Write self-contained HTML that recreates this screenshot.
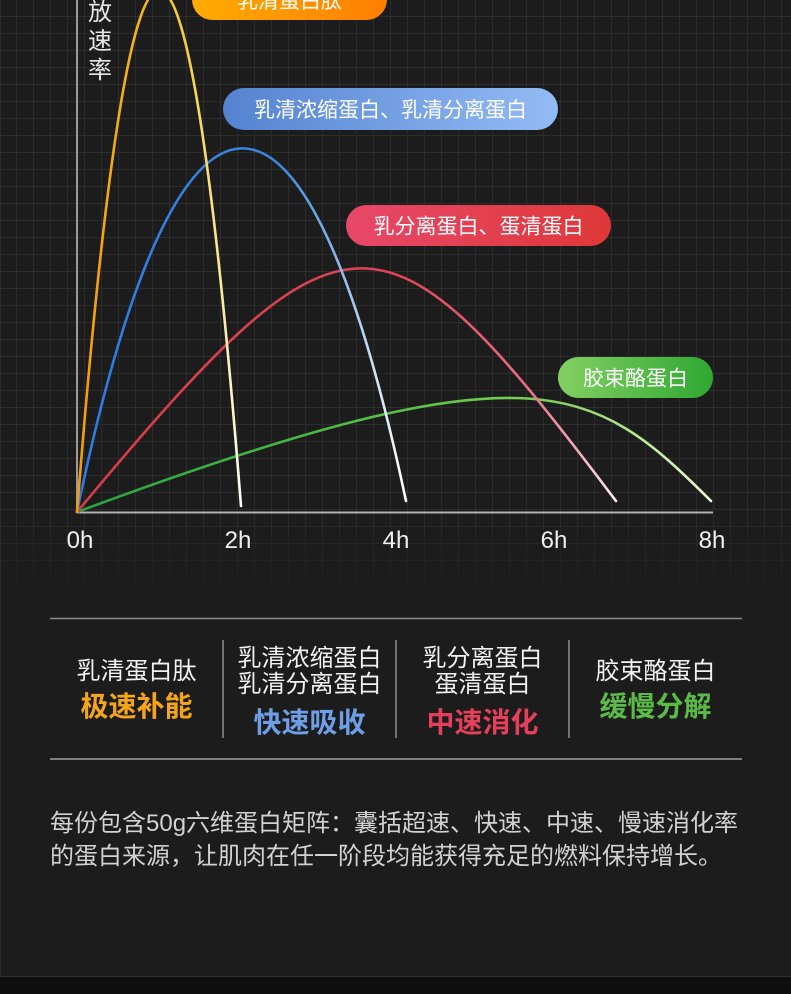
<!DOCTYPE html>
<html><head><meta charset="utf-8">
<style>
html,body{margin:0;padding:0;background:#1c1c1c;}
body{width:791px;height:994px;overflow:hidden;position:relative;}
svg{display:block;position:absolute;left:0;top:0;}
text{font-family:"Liberation Sans","Noto Sans CJK SC",sans-serif;}
</style></head>
<body>
<svg width="791" height="994" viewBox="0 0 791 994" xmlns="http://www.w3.org/2000/svg">
<defs>
  <pattern id="grid" width="17" height="17" patternUnits="userSpaceOnUse">
    <path d="M16.5 0 V17 M0 16.5 H17" stroke="rgba(255,255,255,0.075)" stroke-width="1" fill="none"/>
  </pattern>
  <linearGradient id="fade" x1="0" y1="0" x2="0" y2="1">
    <stop offset="0" stop-color="#fff"/>
    <stop offset="0.82" stop-color="#fff"/>
    <stop offset="1" stop-color="#000"/>
  </linearGradient>
  <mask id="gm"><rect x="0" y="0" width="791" height="610" fill="url(#fade)"/></mask>

  <linearGradient id="gY" gradientUnits="userSpaceOnUse" x1="77" y1="0" x2="241" y2="0">
    <stop offset="0" stop-color="#f39a10"/>
    <stop offset="0.45" stop-color="#f5b81e"/>
    <stop offset="0.7" stop-color="#f7d24a"/>
    <stop offset="0.88" stop-color="#faeaa0"/>
    <stop offset="1" stop-color="#fffdf2"/>
  </linearGradient>
  <linearGradient id="gB" gradientUnits="userSpaceOnUse" x1="77" y1="0" x2="406" y2="0">
    <stop offset="0" stop-color="#2a7ae2"/>
    <stop offset="0.62" stop-color="#3d88e0"/>
    <stop offset="0.8" stop-color="#8db8ea"/>
    <stop offset="0.92" stop-color="#d6e6f6"/>
    <stop offset="1" stop-color="#ffffff"/>
  </linearGradient>
  <linearGradient id="gR" gradientUnits="userSpaceOnUse" x1="77" y1="0" x2="616" y2="0">
    <stop offset="0" stop-color="#d63c46"/>
    <stop offset="0.6" stop-color="#de4556"/>
    <stop offset="0.83" stop-color="#e96a86"/>
    <stop offset="0.93" stop-color="#f2aabb"/>
    <stop offset="1" stop-color="#fdf0f3"/>
  </linearGradient>
  <linearGradient id="gG" gradientUnits="userSpaceOnUse" x1="77" y1="0" x2="711" y2="0">
    <stop offset="0" stop-color="#27a242"/>
    <stop offset="0.5" stop-color="#58bf45"/>
    <stop offset="0.75" stop-color="#80d05a"/>
    <stop offset="0.9" stop-color="#c0e89a"/>
    <stop offset="1" stop-color="#f0ffe0"/>
  </linearGradient>

  <linearGradient id="pO" x1="0" y1="0" x2="1" y2="0">
    <stop offset="0" stop-color="#ffab00"/>
    <stop offset="1" stop-color="#ff7f00"/>
  </linearGradient>
  <linearGradient id="pB" x1="0" y1="0" x2="1" y2="0">
    <stop offset="0" stop-color="#5483d0"/>
    <stop offset="1" stop-color="#93bbf5"/>
  </linearGradient>
  <linearGradient id="pR" x1="0" y1="0" x2="1" y2="0">
    <stop offset="0" stop-color="#e8486a"/>
    <stop offset="1" stop-color="#de3838"/>
  </linearGradient>
  <linearGradient id="pG" x1="0" y1="0" x2="1" y2="0">
    <stop offset="0" stop-color="#84d062"/>
    <stop offset="1" stop-color="#2ea832"/>
  </linearGradient>
</defs>

<rect x="0" y="0" width="791" height="994" fill="#1c1c1c"/>
<rect x="0" y="0" width="791" height="610" fill="url(#grid)" mask="url(#gm)"/>
<rect x="0" y="0" width="1" height="976" fill="#2c2c2c"/>

<!-- axes -->
<line x1="77" y1="0" x2="77" y2="513" stroke="#9a9a9a" stroke-width="2"/>
<line x1="77" y1="512.5" x2="713" y2="512.5" stroke="#b0b0b0" stroke-width="2"/>

<!-- y axis label -->
<g fill="#e6e6e6" font-size="24" text-anchor="middle">
  <text x="100" y="20">放</text>
  <text x="100" y="49">速</text>
  <text x="100" y="78">率</text>
</g>

<!-- curves -->
<g fill="none" stroke-width="2.6" stroke-linecap="round">
  <path d="M77,512 C533,343 591,381 711,501" stroke="url(#gG)"/>
  <path d="M77,512 C347,188 382,190 616,501" stroke="url(#gR)"/>
  <path d="M77,512 C177,29 306,29 406,501" stroke="url(#gB)"/>
  <path d="M77,512 Q159,-529 241,506" stroke="url(#gY)"/>
</g>

<!-- tick labels -->
<g fill="#f0f0f0" font-size="24" text-anchor="middle">
  <text x="80" y="548">0h</text>
  <text x="238" y="548">2h</text>
  <text x="396" y="548">4h</text>
  <text x="554" y="548">6h</text>
  <text x="712" y="548">8h</text>
</g>

<!-- pills -->
<rect x="192" y="-21" width="195" height="41" rx="20.5" fill="url(#pO)"/>
<rect x="223" y="88" width="335" height="42" rx="21" fill="url(#pB)"/>
<rect x="346" y="205" width="265" height="41" rx="20.5" fill="url(#pR)"/>
<rect x="558" y="357" width="155" height="41" rx="20.5" fill="url(#pG)"/>
<g fill="#ffffff" font-size="21" text-anchor="middle">
  <text x="289.5" y="8">乳清蛋白肽</text>
  <text x="390.5" y="117">乳清浓缩蛋白、乳清分离蛋白</text>
  <text x="478.5" y="233.5">乳分离蛋白、蛋清蛋白</text>
  <text x="635.5" y="385.5">胶束酪蛋白</text>
</g>

<!-- table -->
<line x1="50" y1="618.5" x2="742" y2="618.5" stroke="#8a8a8a" stroke-width="1.5"/>
<line x1="50" y1="759" x2="742" y2="759" stroke="#bcbcbc" stroke-width="1.2"/>
<line x1="223" y1="640" x2="223" y2="738" stroke="#888" stroke-width="1.6"/>
<line x1="396" y1="640" x2="396" y2="738" stroke="#888" stroke-width="1.6"/>
<line x1="569" y1="640" x2="569" y2="738" stroke="#888" stroke-width="1.6"/>

<g fill="#f2f2f2" font-size="24" text-anchor="middle">
  <text x="136.5" y="679">乳清蛋白肽</text>
  <text x="309.5" y="666">乳清浓缩蛋白</text>
  <text x="309.5" y="692">乳清分离蛋白</text>
  <text x="482.5" y="666">乳分离蛋白</text>
  <text x="482.5" y="692">蛋清蛋白</text>
  <text x="655.5" y="679">胶束酪蛋白</text>
</g>
<g font-size="28" font-weight="700" text-anchor="middle">
  <text x="136.5" y="716" fill="#f4a51c">极速补能</text>
  <text x="309.5" y="732" fill="#6d9ee6">快速吸收</text>
  <text x="482.5" y="732" fill="#e4405a">中速消化</text>
  <text x="655.5" y="716" fill="#5cbb46">缓慢分解</text>
</g>

<!-- paragraph -->
<g fill="#d2d2d2" font-size="24">
  <text x="50" y="831">每份包含50g六维蛋白矩阵：囊括超速、快速、中速、慢速消化率</text>
  <text x="50" y="864">的蛋白来源，让肌肉在任一阶段均能获得充足的燃料保持增长。</text>
</g>

<!-- bottom strip -->
<rect x="0" y="976" width="791" height="18" fill="#0f0f0f"/>
<line x1="0" y1="976.5" x2="791" y2="976.5" stroke="#333" stroke-width="1"/>
</svg>
</body></html>
